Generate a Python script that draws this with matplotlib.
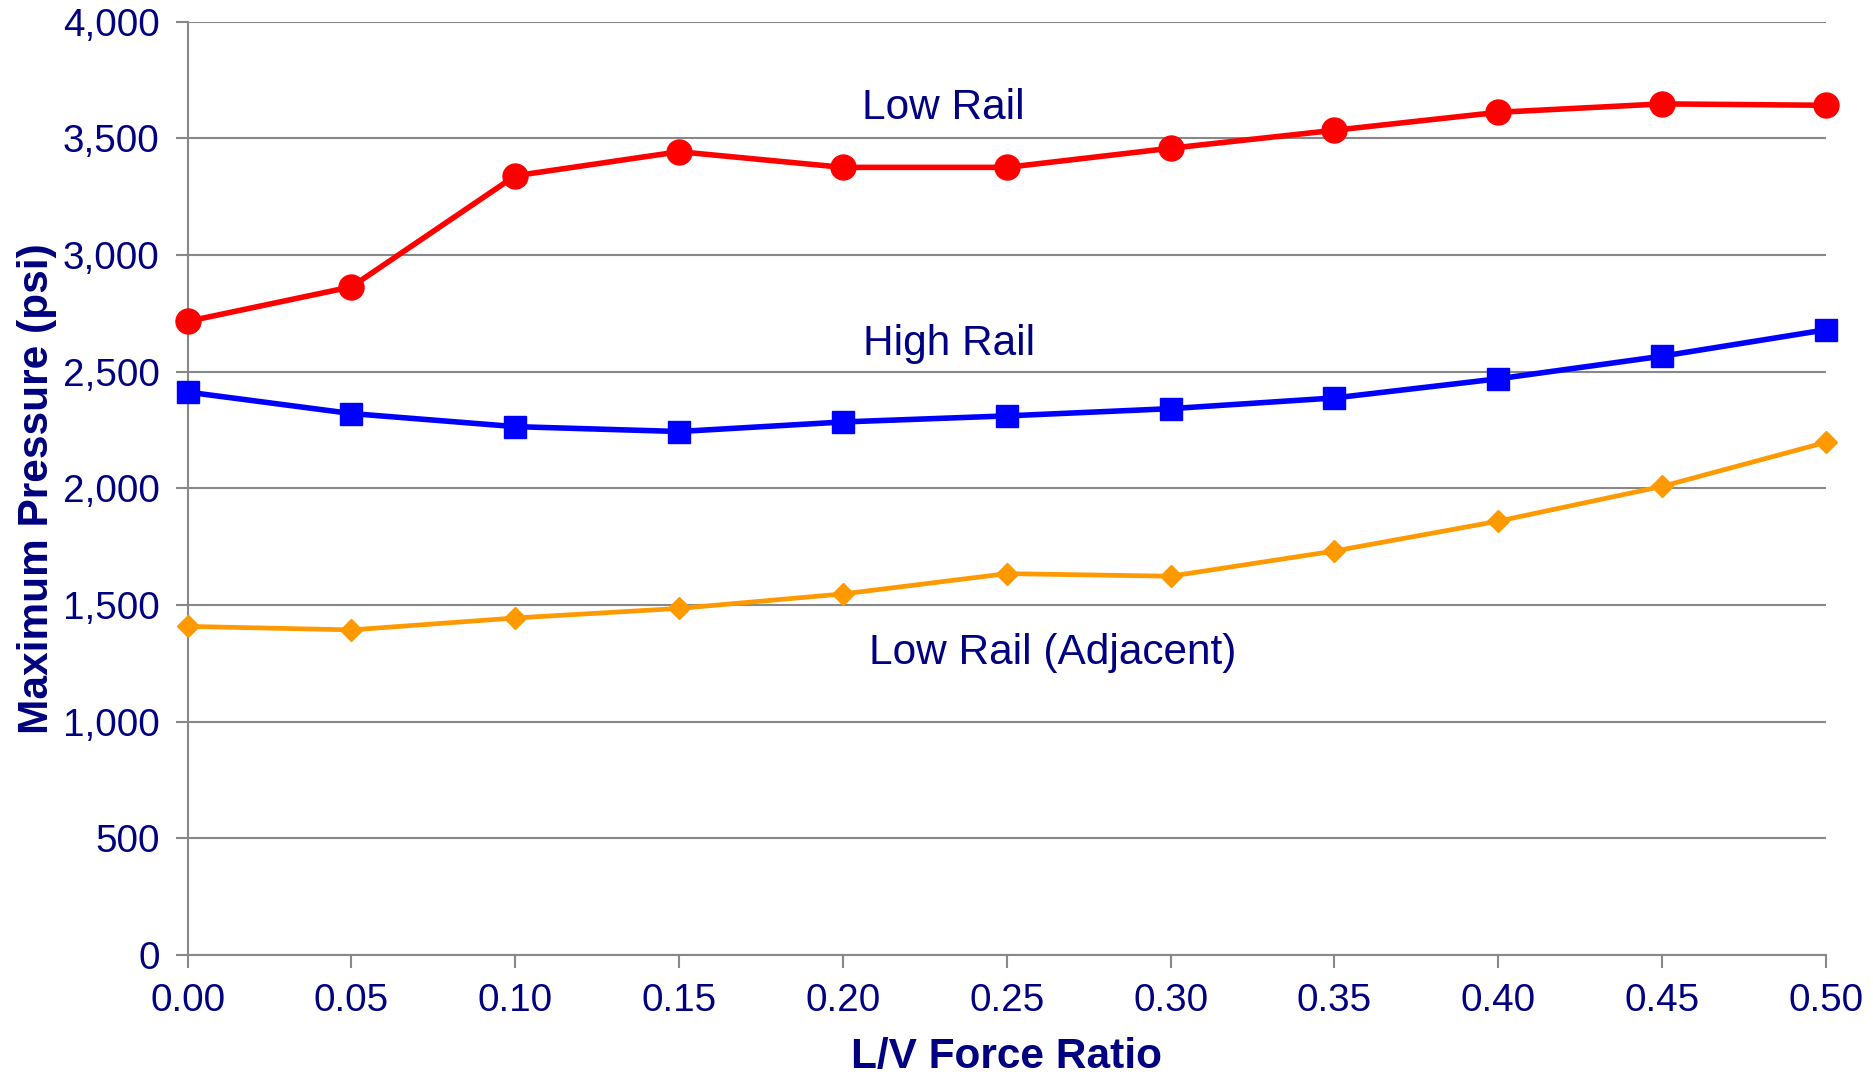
import matplotlib
matplotlib.use("Agg")
import matplotlib.pyplot as plt
from matplotlib.ticker import FuncFormatter

# ---------------------------------------------------------------------------
# Data
# ---------------------------------------------------------------------------
LV_RATIO = [0.00, 0.05, 0.10, 0.15, 0.20, 0.25, 0.30, 0.35, 0.40, 0.45, 0.50]
LOW_RAIL = [2715, 2863, 3339, 3442, 3375, 3375, 3457, 3534, 3611, 3647, 3641]
HIGH_RAIL = [2412, 2320, 2264, 2243, 2284, 2310, 2341, 2387, 2469, 2566, 2679]
LOW_RAIL_ADJ = [1408, 1393, 1444, 1485, 1547, 1634, 1623, 1731, 1859, 2008, 2197]

Y_TICKS = [0, 500, 1000, 1500, 2000, 2500, 3000, 3500, 4000]

NAVY = "#000080"
GRID = "#888888"

plt.rcParams["font.family"] = ["Liberation Sans", "DejaVu Sans"]

fig = plt.figure(figsize=(18.74, 10.81), dpi=100)
ax = fig.add_axes([0.1001, 0.1166, 0.8743, 0.8635])

ax.plot(LV_RATIO, LOW_RAIL, color="#ff0000", lw=4.0, marker="o", ms=18,
        zorder=5, clip_on=False)
ax.plot(LV_RATIO, HIGH_RAIL, color="#0000ff", lw=4.0, marker="s", ms=16,
        zorder=5, clip_on=False)
ax.plot(LV_RATIO, LOW_RAIL_ADJ, color="#ff9900", lw=3.4, marker="D", ms=11,
        zorder=5, clip_on=False)

ax.text(0.2305, 3631, "Low Rail", color=NAVY, fontsize=30.5, ha="center", va="center")
ax.text(0.2323, 2617, "High Rail", color=NAVY, fontsize=30.5, ha="center", va="center")
ax.text(0.264, 1296, "Low Rail (Adjacent)", color=NAVY, fontsize=30.5,
        ha="center", va="center")

ax.set_xlim(0, 0.5)
ax.set_ylim(0, 4000)
ax.set_xticks(LV_RATIO)
ax.set_xticklabels([f"{v:.2f}" for v in LV_RATIO])
ax.set_yticks(Y_TICKS)
ax.yaxis.set_major_formatter(FuncFormatter(lambda v, p: f"{int(v):,}"))

ax.grid(True, axis="y", color=GRID, lw=1.5)
ax.set_axisbelow(True)
for side in ("top", "right"):
    ax.spines[side].set_visible(False)
for side in ("left", "bottom"):
    ax.spines[side].set_color(GRID)
    ax.spines[side].set_linewidth(1.5)

ax.tick_params(axis="both", colors=GRID, labelcolor=NAVY, labelsize=27.8,
               width=1.5, length=9, direction="out")
ax.tick_params(axis="y", pad=11)
ax.tick_params(axis="x", pad=11)

ax.set_xlabel("L/V Force Ratio", color=NAVY, fontsize=30.5, fontweight="bold",
              labelpad=13)
ax.set_ylabel("Maximum Pressure (psi)", color=NAVY, fontsize=30.5,
              fontweight="bold", labelpad=4)

fig.savefig("out.png", dpi=100, facecolor="white")
